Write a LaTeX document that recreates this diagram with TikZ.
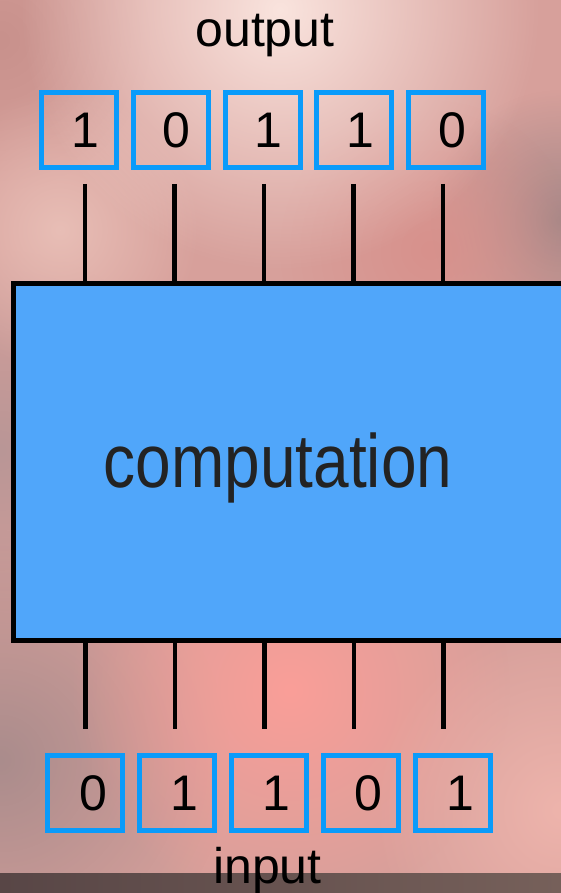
\documentclass[tikz,border=0pt]{standalone}
\usepackage{fontspec}
\setmainfont{Liberation Sans}
\usepackage{xcolor}
\usepackage{tikz}
\usetikzlibrary{calc,positioning,fadings}

\definecolor{bitblue}{RGB}{10,155,250}
\definecolor{compblue}{RGB}{80,166,250}
\definecolor{comptext}{RGB}{35,35,35}
\definecolor{bgbase}{RGB}{215,160,155}
\definecolor{bgA}{RGB}{250,228,222}
\definecolor{bgB}{RGB}{200,145,140}
\definecolor{bgC}{RGB}{165,135,135}
\definecolor{bgD}{RGB}{215,145,140}
\definecolor{bgE}{RGB}{185,150,150}
\definecolor{bgF}{RGB}{170,140,140}
\definecolor{bgG}{RGB}{250,158,152}
\definecolor{bgH}{RGB}{238,180,172}
\definecolor{bgI}{RGB}{232,190,182}
\definecolor{stripL}{RGB}{88,70,70}
\definecolor{stripR}{RGB}{118,96,90}
\tikzfading[name=softblob, inner color=transparent!0, outer color=transparent!100]

\begin{document}
\begin{tikzpicture}[x=1pt, y=-1pt,
    bitbox/.style={draw=bitblue, line width=5pt, minimum size=75pt, inner sep=0pt},
    bitdigit/.style={font=\fontsize{50}{50}\selectfont, inner sep=0pt},
    wire/.style={line width=4.5pt},
    caption/.style={font=\fontsize{50}{50}\selectfont, inner sep=0pt}]

    \useasboundingbox (0,0) rectangle (561,893);
    \clip (0,0) rectangle (561,893);

    % Background
    \fill[bgbase] (0,0) rectangle (561,893);
    \foreach \cx/\cy/\r/\c in {0/40/150/bgB, 561/220/130/bgC, 430/250/150/bgD,
        0/450/200/bgE, 0/760/230/bgF, 290/690/220/bgG, 561/810/190/bgH,
        60/230/140/bgI, 280/10/260/bgA} {
        \fill[\c, path fading=softblob] (\cx,\cy) circle (\r);
    }
    \shade[left color=stripL, right color=stripR] (0,873) rectangle (561,893);

    % Computation block
    \node[draw, line width=5pt, fill=compblue, minimum width=620pt,
        minimum height=357pt, inner sep=0pt, outer sep=0pt,
        anchor=north west] (comp) at (13.5,283.5) {};
    \node[font=\fontsize{64}{64}\selectfont, yscale=1.18, text=comptext,
        inner sep=0pt, anchor=base] (complabel) at (278,487) {computation};

    % Wires
    \foreach \i in {1,...,5} {
        \coordinate (otop\i) at ({85+89.5*(\i-1)},184);
        \draw[wire] (otop\i) -- (otop\i |- comp.north);
        \coordinate (ibot\i) at ({85.5+89.5*(\i-1)},729);
        \draw[wire] (comp.south -| ibot\i) -- (ibot\i);
    }

    % Output bits
    \foreach \b [count=\i] in {1,0,1,1,0} {
        \node[bitbox] (out\i) at ({79+91.75*(\i-1)},130) {};
        \node[bitdigit] (outd\i) at ($(out\i.center)+(6,0)$) {\b};
    }

    % Input bits
    \foreach \b [count=\i] in {0,1,1,0,1} {
        \node[bitbox] (in\i) at ({85+91.9*(\i-1)},793) {};
        \node[bitdigit] (ind\i) at ($(in\i.center)+(8,0)$) {\b};
    }

    % Labels
    \node[caption, anchor=base] (outlabel) at (265,47) {output};
    \node[caption, anchor=base] (inlabel) at (267.5,883) {input};
\end{tikzpicture}
\end{document}
